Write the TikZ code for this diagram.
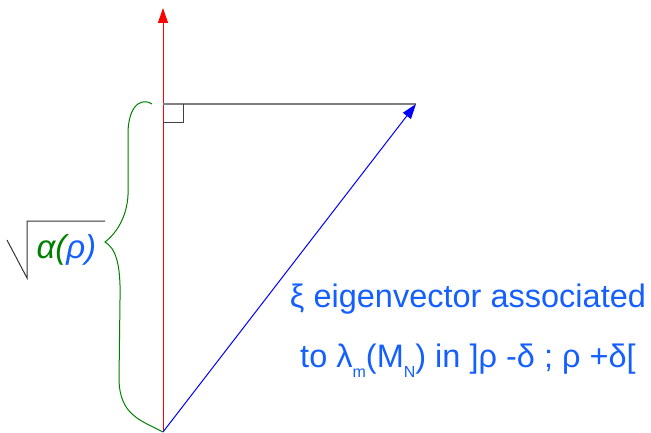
\documentclass[tikz,border=0pt]{standalone}
\usepackage{fontspec}
\setmainfont{Liberation Sans}
\usetikzlibrary{arrows.meta}
\definecolor{vecblue}{RGB}{0,0,255}
\definecolor{txtblue}{RGB}{20,95,255}
\definecolor{bracegreen}{RGB}{0,128,0}
\tikzset{
	bigtip/.style={-{Triangle[length=15pt,width=10pt]}},
	lbl/.style={color=txtblue, inner sep=0pt, font=\fontsize{32.5}{32.5}\selectfont}
}
\newcommand{\lowsub}[1]{\raisebox{-10pt}{\fontsize{16}{16}\selectfont #1}}
\begin{document}
\begin{tikzpicture}[x=1pt,y=-1pt,line width=1pt]
	\useasboundingbox (0,0) rectangle (651,433);
	\coordinate (O) at (163,432);
	\coordinate (T) at (163,8);
	\coordinate (F) at (163,104);
	\coordinate (V) at (416,104);
	% axis and top side
	\draw[red, bigtip] (O) -- (T);
	\draw[gray, line width=2pt] (F) -- (V);
	\draw[black!75] (163,123) -- (183,123) -- (183,104);
	% the vector
	\draw[vecblue, bigtip] (O) -- (V);
	% brace (green, hand drawn)
	\draw[bracegreen] (152,104) .. controls (145,99) and (130,100) .. (128,130)
		-- (128,195) .. controls (127,215) and (118,232) .. (105,242)
		.. controls (115,248) and (121,262) .. (120,300)
		-- (119,380) .. controls (120,415) and (140,420) .. (O);
	% square root
	\draw[black!80] (7,240) -- (27,278) -- (27,221) -- (105,221);
	\node[anchor=base west, inner sep=0pt, font=\fontsize{33}{33}\selectfont\itshape] (alpha) at (36,258)
		{\textcolor{bracegreen}{α(}\textcolor{txtblue}{ρ)}};
	% label of the vector
	\node[lbl, anchor=base] (xi1) at (468,307) {ξ eigenvector associated};
	\node[lbl, anchor=base] (xi2) at (468,367) {to λ\lowsub{m}(M\lowsub{N}) in ]ρ -δ ; ρ +δ[};
\end{tikzpicture}
\end{document}
